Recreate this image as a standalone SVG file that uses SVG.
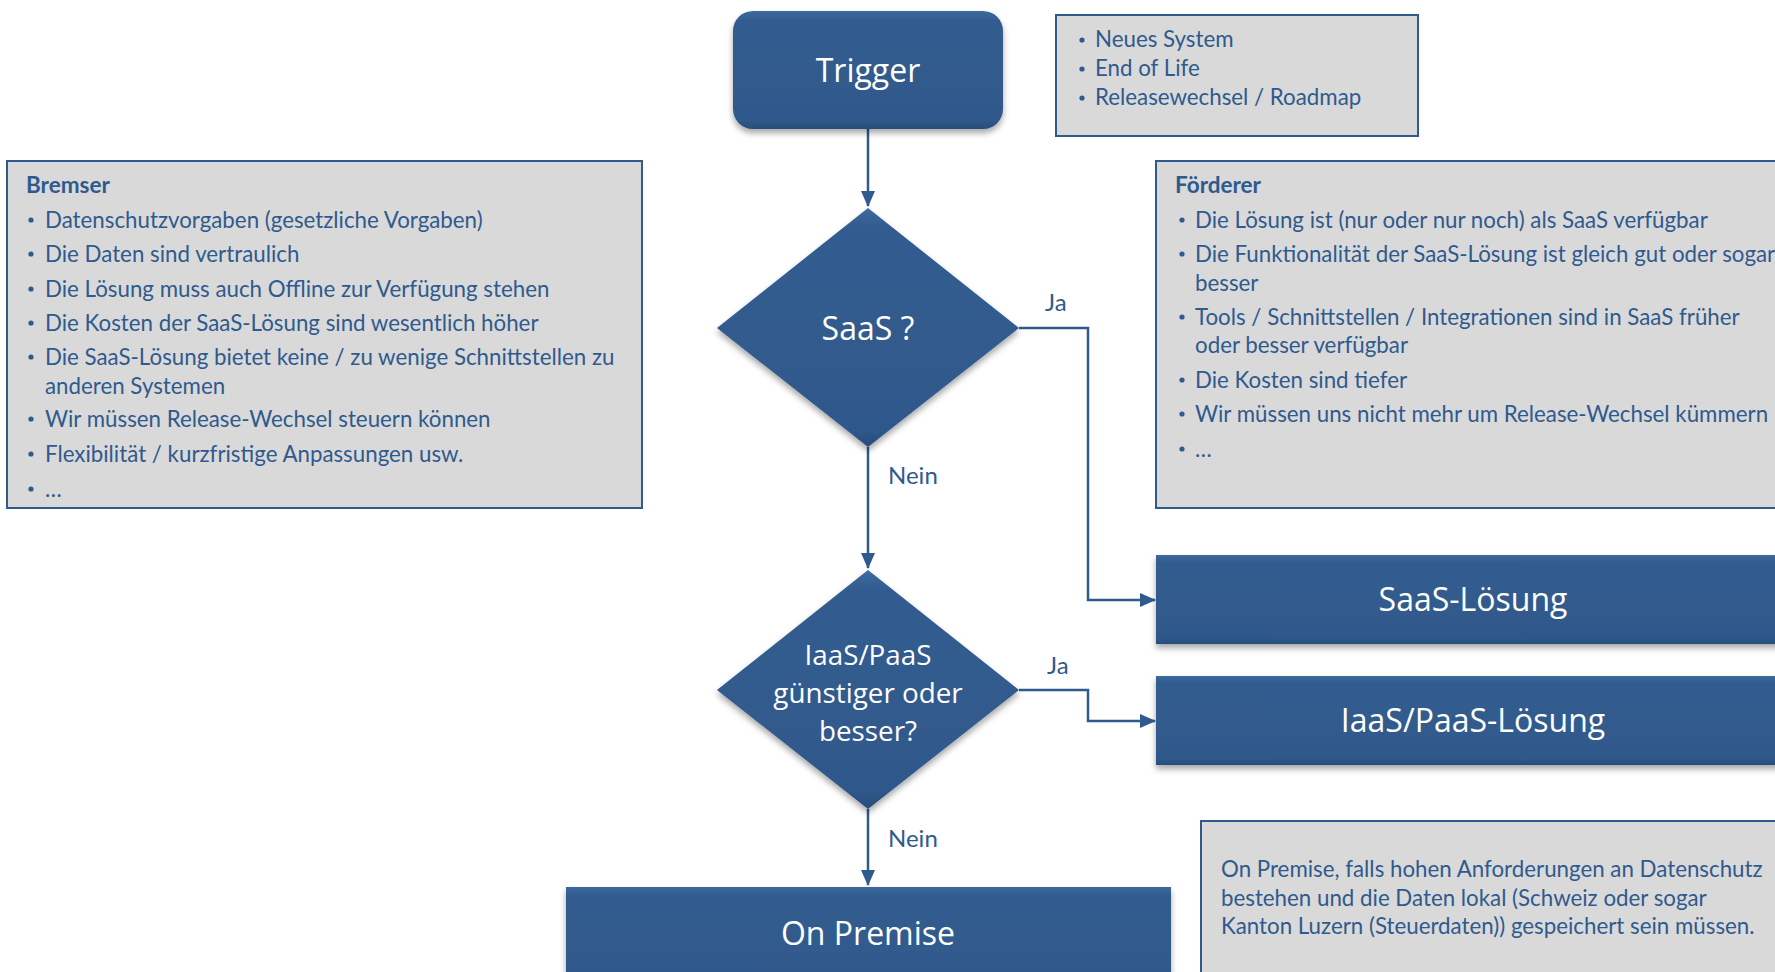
<svg xmlns="http://www.w3.org/2000/svg" width="1775" height="972" viewBox="0 0 1775 972">
<defs>
<filter id="sh" x="-10%" y="-10%" width="120%" height="130%">
<feDropShadow dx="0" dy="4" stdDeviation="3" flood-color="#000" flood-opacity="0.35"/>
</filter>
<linearGradient id="bev" x1="0" y1="0" x2="0" y2="1">
<stop offset="0" stop-color="#3E6A9E"/>
<stop offset="0.08" stop-color="#325C8F"/>
<stop offset="0.92" stop-color="#2F598C"/>
<stop offset="1" stop-color="#284D7A"/>
</linearGradient>
<marker id="arr" viewBox="0 0 16 14" refX="15" refY="7" markerWidth="16" markerHeight="14" markerUnits="userSpaceOnUse" orient="auto">
<path d="M0,0 L16,7 L0,14 Z" fill="#2F5A8E"/>
</marker>
<style>
.node{fill:url(#bev);filter:url(#sh);}
.box{fill:#D9D9D9;stroke:#2F5A8E;stroke-width:2;}
.nt{font-family:"Open Sans",sans-serif;fill:#FFFFFF;text-anchor:middle;}
.bt{font-family:Lato,"Liberation Sans",sans-serif;fill:#2F5A8E;font-size:22.3px;}
.bh{font-weight:bold;font-size:22.5px;}
.dot{fill:#2F5A8E;}
.lbl{font-family:Lato,"Liberation Sans",sans-serif;fill:#2F5A8E;font-size:24px;}
.con{fill:none;stroke:#2F5A8E;stroke-width:2.5;}
</style>
</defs>

<g id="connectors">
<path class="con" d="M868,129 V206" marker-end="url(#arr)"/>
<path class="con" d="M1019,328 H1088 V600 H1155" marker-end="url(#arr)"/>
<path class="con" d="M868,447 V568" marker-end="url(#arr)"/>
<path class="con" d="M1019,690 H1088 V721 H1155" marker-end="url(#arr)"/>
<path class="con" d="M868,809 V885" marker-end="url(#arr)"/>
<text class="lbl" x="1045" y="311">Ja</text>
<text class="lbl" x="888" y="484">Nein</text>
<text class="lbl" x="1047" y="674">Ja</text>
<text class="lbl" x="888" y="847">Nein</text>
</g>

<g id="trigger">
<rect class="node" x="733" y="11" width="270" height="118" rx="20"/>
<text class="nt" x="868" y="82" font-size="32">Trigger</text>
</g>

<g id="trigger-info">
<rect class="box" x="1056" y="15" width="362" height="121"/>
<circle class="dot" cx="1082" cy="40" r="2.6"/><text class="bt" x="1095" y="47">Neues System</text>
<circle class="dot" cx="1082" cy="69" r="2.6"/><text class="bt" x="1095" y="76">End of Life</text>
<circle class="dot" cx="1082" cy="98" r="2.6"/><text class="bt" x="1095" y="105">Releasewechsel / Roadmap</text>
</g>

<g id="bremser">
<rect class="box" x="7" y="161" width="635" height="347"/>
<text class="bt bh" x="26" y="193">Bremser</text>
<circle class="dot" cx="31" cy="220" r="2.6"/><text class="bt" x="45" y="228">Datenschutzvorgaben (gesetzliche Vorgaben)</text>
<circle class="dot" cx="31" cy="254" r="2.6"/><text class="bt" x="45" y="262">Die Daten sind vertraulich</text>
<circle class="dot" cx="31" cy="289" r="2.6"/><text class="bt" x="45" y="297">Die Lösung muss auch Offline zur Verfügung stehen</text>
<circle class="dot" cx="31" cy="323" r="2.6"/><text class="bt" x="45" y="331">Die Kosten der SaaS-Lösung sind wesentlich höher</text>
<circle class="dot" cx="31" cy="357" r="2.6"/><text class="bt" x="45" y="365">Die SaaS-Lösung bietet keine / zu wenige Schnittstellen zu</text>
<text class="bt" x="45" y="394">anderen Systemen</text>
<circle class="dot" cx="31" cy="419" r="2.6"/><text class="bt" x="45" y="427">Wir müssen Release-Wechsel steuern können</text>
<circle class="dot" cx="31" cy="454" r="2.6"/><text class="bt" x="45" y="462">Flexibilität / kurzfristige Anpassungen usw.</text>
<circle class="dot" cx="31" cy="489" r="2.6"/><text class="bt" x="45" y="497">…</text>
</g>

<g id="foerderer">
<rect class="box" x="1156" y="161" width="640" height="347"/>
<text class="bt bh" x="1175" y="193">Förderer</text>
<circle class="dot" cx="1182" cy="220" r="2.6"/><text class="bt" x="1195" y="228">Die Lösung ist (nur oder nur noch) als SaaS verfügbar</text>
<circle class="dot" cx="1182" cy="254" r="2.6"/><text class="bt" x="1195" y="262">Die Funktionalität der SaaS-Lösung ist gleich gut oder sogar</text>
<text class="bt" x="1195" y="291">besser</text>
<circle class="dot" cx="1182" cy="317" r="2.6"/><text class="bt" x="1195" y="325">Tools / Schnittstellen / Integrationen sind in SaaS früher</text>
<text class="bt" x="1195" y="353">oder besser verfügbar</text>
<circle class="dot" cx="1182" cy="380" r="2.6"/><text class="bt" x="1195" y="388">Die Kosten sind tiefer</text>
<circle class="dot" cx="1182" cy="414" r="2.6"/><text class="bt" x="1195" y="422">Wir müssen uns nicht mehr um Release-Wechsel kümmern</text>
<circle class="dot" cx="1182" cy="449" r="2.6"/><text class="bt" x="1195" y="457">…</text>
</g>

<g id="saas-decision">
<polygon class="node" points="868,208 1019,328 868,447 717,328"/>
<text class="nt" x="868" y="340" font-size="32">SaaS ?</text>
</g>

<g id="iaas-decision">
<polygon class="node" points="868,570 1019,690 868,809 717,690"/>
<text class="nt" x="868" y="665" font-size="27.8">IaaS/PaaS</text>
<text class="nt" x="868" y="703" font-size="27.8">günstiger oder</text>
<text class="nt" x="868" y="741" font-size="27.8">besser?</text>
</g>

<g id="saas-loesung">
<rect class="node" x="1156" y="555" width="640" height="89"/>
<text class="nt" x="1473" y="611" font-size="32">SaaS-Lösung</text>
</g>

<g id="iaas-loesung">
<rect class="node" x="1156" y="676" width="640" height="89"/>
<text class="nt" x="1473" y="732" font-size="32">IaaS/PaaS-Lösung</text>
</g>

<g id="on-premise">
<rect class="node" x="566" y="887" width="605" height="100"/>
<text class="nt" x="868" y="945" font-size="32">On Premise</text>
</g>

<g id="on-premise-note">
<rect class="box" x="1201" y="821" width="600" height="170"/>
<text class="bt" x="1221" y="877">On Premise, falls hohen Anforderungen an Datenschutz</text>
<text class="bt" x="1221" y="906">bestehen und die Daten lokal (Schweiz oder sogar</text>
<text class="bt" x="1221" y="934">Kanton Luzern (Steuerdaten)) gespeichert sein müssen.</text>
</g>
</svg>
